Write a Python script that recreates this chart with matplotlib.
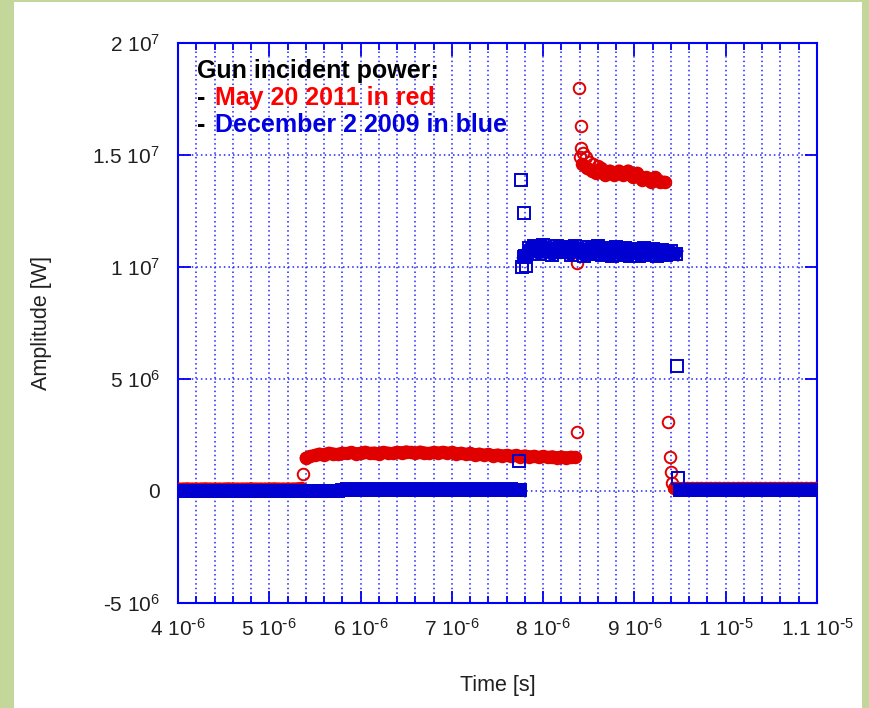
import numpy as np
import matplotlib
matplotlib.use('Agg')
from matplotlib import pyplot as plt
from matplotlib.patches import Rectangle

plt.rcParams['font.family'] = ['Liberation Sans', 'DejaVu Sans']
plt.rcParams['mathtext.default'] = 'regular'

# values: time in microseconds, amplitude in MW (scaled when plotted)
# May 20 2011 (red circles)
red_base1_t0 = 4.00
red_base1 = [0.10, 0.10, 0.11, 0.10, 0.10, 0.10, 0.11, 0.10, 0.10, 0.10,
             0.10, 0.11, 0.10, 0.10, 0.10, 0.10, 0.11, 0.10, 0.10, 0.10,
             0.10, 0.11, 0.10, 0.10, 0.10, 0.10, 0.11, 0.12]
red_low_t0 = 5.40
red_low = [1.48, 1.55, 1.60, 1.66, 1.62, 1.70, 1.66, 1.64, 1.70, 1.68,
           1.72, 1.66, 1.70, 1.74, 1.68, 1.71, 1.66, 1.73, 1.70, 1.68,
           1.74, 1.70, 1.76, 1.72, 1.69, 1.75, 1.71, 1.68, 1.73, 1.70,
           1.74, 1.69, 1.72, 1.66, 1.70, 1.64, 1.68, 1.62, 1.66, 1.60,
           1.64, 1.58, 1.62, 1.57, 1.60, 1.55, 1.59, 1.54, 1.58, 1.52,
           1.56, 1.50, 1.55, 1.50, 1.54, 1.49, 1.53, 1.48, 1.52, 1.50]
red_high_t0 = 8.43
red_high = [14.6, 14.4, 14.3, 14.2, 14.4, 14.1, 14.3, 14.1, 14.3, 14.1,
            14.3, 14.0, 14.2, 13.9, 14.0, 13.8, 14.0, 13.8, 13.8]
red_base2_t0 = 9.43
red_base2 = [0.12] * 32
red_pts_t = [5.37, 8.37, 8.37, 8.39, 8.41, 8.42, 8.44, 8.40, 8.47, 8.50,
             8.55, 8.60, 9.37, 9.39, 9.40, 9.41]
red_pts = [0.78, 2.65, 10.2, 18.0, 16.3, 15.3, 15.1, 14.9, 14.9, 14.7,
           14.6, 14.5, 3.1, 1.54, 0.87, 0.37]

# December 2 2009 (blue squares)
blue_base1_t0 = 4.00
blue_base1 = [0.02] * 36 + [0.06, 0.07, 0.06, 0.06, 0.07, 0.06, 0.06, 0.07,
                            0.06, 0.06, 0.07, 0.06, 0.06, 0.07, 0.06, 0.06,
                            0.07, 0.06, 0.06, 0.07, 0.06, 0.06, 0.07, 0.06,
                            0.06, 0.07, 0.06, 0.06, 0.07, 0.06, 0.06, 0.07,
                            0.06, 0.06, 0.07, 0.06, 0.06, 0.07, 0.06, 0.06]
blue_high_t0 = 7.80
blue_high = [10.5, 10.85, 10.95, 10.6, 11.0, 10.7, 10.55, 10.95, 10.65, 10.9,
             10.55, 10.95, 10.75, 10.5, 10.9, 10.6, 10.95, 10.55, 10.85, 10.5,
             10.9, 10.55, 10.85, 10.5, 10.8, 10.5, 10.85, 10.55, 10.8, 10.5,
             10.75, 10.55, 10.7, 10.6]
blue_base2_t0 = 9.50
blue_base2 = [0.03] * 31
blue_pts_t = [7.74, 7.76, 7.79, 7.77, 7.81, 7.79, 9.47, 9.48]
blue_pts = [1.35, 13.9, 12.4, 10.0, 10.05, 10.45, 5.6, 0.58]

step = 0.05

xticks = [4e-6, 5e-6, 6e-6, 7e-6, 8e-6, 9e-6, 1e-5, 1.1e-5]
xlabels = ['4 10$^{\\text{-}6}$', '5 10$^{\\text{-}6}$', '6 10$^{\\text{-}6}$',
           '7 10$^{\\text{-}6}$', '8 10$^{\\text{-}6}$', '9 10$^{\\text{-}6}$',
           '1 10$^{\\text{-}5}$', '1.1 10$^{\\text{-}5}$']
yticks = [-5e6, 0, 5e6, 1e7, 1.5e7, 2e7]
ylabels = ['-5 10$^{6}$', '0', '5 10$^{6}$', '1 10$^{7}$', '1.5 10$^{7}$', '2 10$^{7}$']

RED = '#e00000'
BLUE = '#0000d0'

fig = plt.figure(figsize=(8.7, 7.08), dpi=100)
fig.patch.set_facecolor('#c4d79b')
fig.add_artist(Rectangle((14 / 870, 0), (862 - 14) / 870, 706 / 708,
                         transform=fig.transFigure, facecolor='white',
                         edgecolor='none', zorder=0))
ax = fig.add_axes([178 / 870, 1 - 603 / 708, 639 / 870, 560 / 708])


def segment(t0, vals):
    t = (t0 + step * np.arange(len(vals))) * 1e-6
    return t, np.array(vals) * 1e6


def draw(segs, pts_t, pts, color, marker, cap, z):
    for t0, vals in segs:
        t, v = segment(t0, vals)
        ax.plot(t, v, '-', color=color, lw=9, solid_capstyle=cap, zorder=z)
        ax.plot(t, v, marker, ls='none', ms=8.3, mew=1.4, mfc='none',
                mec=color, zorder=z)
    ax.plot(np.array(pts_t) * 1e-6, np.array(pts) * 1e6, marker, ls='none',
            ms=8.3, mew=1.4, mfc='none', mec=color, zorder=z + 0.5)


draw([(red_base1_t0, red_base1), (red_low_t0, red_low),
      (red_high_t0, red_high), (red_base2_t0, red_base2)],
     red_pts_t, red_pts, RED, 'o', 'round', 3)
draw([(blue_base1_t0, blue_base1), (blue_high_t0, blue_high),
      (blue_base2_t0, blue_base2)],
     blue_pts_t, blue_pts, BLUE, 's', 'projecting', 4)

ax.set_xlim(4e-6, 1.1e-5)
ax.set_ylim(-5e6, 2e7)
ax.set_xticks(xticks, xlabels)
ax.set_xticks(np.arange(4.2, 11.0, 0.2) * 1e-6, minor=True)
ax.set_yticks(yticks, ylabels)

ax.set_axisbelow(True)
ax.grid(which='both', axis='x', color='#2020ff', ls=(0, (1, 2)), lw=1.1)
ax.grid(which='major', axis='y', color='#2020ff', ls=(0, (1, 2)), lw=1.1)
for s in ax.spines.values():
    s.set_color('#0000ff')
    s.set_linewidth(1.5)
ax.tick_params(which='both', direction='in', top=True, right=True,
               color='#0000ff', labelsize=15, labelcolor='#202020')
ax.tick_params(which='major', length=9, width=1.3)
ax.tick_params(which='minor', length=5, width=1.3)
ax.tick_params(axis='x', pad=11)
ax.tick_params(axis='y', pad=13)

fig.text(498 / 870, 1 - 686 / 708, 'Time [s]', ha='center', va='center',
         fontsize=15.5, color='#202020')
fig.text(42 / 870, 1 - 323 / 708, 'Amplitude [W]', ha='center', va='center',
         rotation=90, fontsize=15.5, color='#202020')

tx = ax.transAxes
fs = 18
ax.text(0.0297, 0.9375, 'Gun incident power:', transform=tx, fontsize=fs,
        fontweight='bold', color='black', zorder=6)
ax.text(0.0297, 0.889, '-', transform=tx, fontsize=fs, fontweight='bold',
        color='black', zorder=6)
ax.text(0.0579, 0.889, 'May 20 2011 in red', transform=tx, fontsize=fs,
        fontweight='bold', color='#ff0000', zorder=6)
ax.text(0.0297, 0.841, '-', transform=tx, fontsize=fs, fontweight='bold',
        color='black', zorder=6)
ax.text(0.0579, 0.841, 'December 2 2009 in blue', transform=tx, fontsize=fs,
        fontweight='bold', color='#0000e0', zorder=6)

fig.savefig('out.png', dpi=100)
